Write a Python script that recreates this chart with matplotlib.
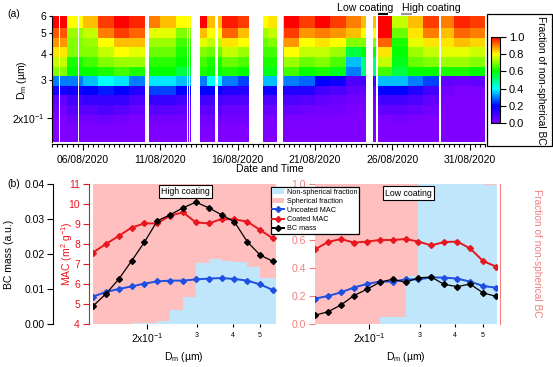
import datetime as dt
import numpy as np
import matplotlib
matplotlib.use('Agg')
import matplotlib.pyplot as plt
import matplotlib.dates as mdates
from matplotlib.colors import LinearSegmentedColormap
from matplotlib.patches import Rectangle, Patch
from matplotlib.lines import Line2D
from matplotlib.ticker import FixedLocator, FixedFormatter

plt.rcParams['font.family'] = ['Liberation Sans', 'DejaVu Sans']
plt.rcParams['mathtext.fontset'] = 'custom'
plt.rcParams['mathtext.rm'] = 'Liberation Sans'
plt.rcParams['mathtext.it'] = 'Liberation Sans:italic'

# ---------------- data ----------------
# size bins (um) shared by both panels
Dm = [0.1291, 0.1433, 0.1590, 0.1765, 0.1959, 0.2175, 0.2413, 0.2679,
      0.2972, 0.3299, 0.3661, 0.4063, 0.4509, 0.5004, 0.5554]
# heat-map row edges (bins 3..15), bottom -> top
heat_edges = [0.1510, 0.1675, 0.1859, 0.2064, 0.2290, 0.2542, 0.2821,
              0.3131, 0.3475, 0.3857, 0.4280, 0.4750, 0.5272, 0.6000]
# daily mean fraction of non-spherical BC per row (bottom -> top), 4-31 Aug 2020
heat_days = list(range(4, 32))
heat_frac = [
    [0, 0, 0, 0.02, 0.05, 0.17, 0.30, 0.70, 0.75, 0.82, 0.88, 0.93, 1.00],  # 4
    [0, 0.01, 0.03, 0.06, 0.10, 0.18, 0.30, 0.60, 0.62, 0.70, 0.70, 0.72, 0.80],  # 5
    [0, 0.01, 0.02, 0.06, 0.12, 0.20, 0.35, 0.60, 0.65, 0.70, 0.72, 0.75, 0.85],  # 6
    [0, 0.01, 0.03, 0.08, 0.12, 0.22, 0.40, 0.62, 0.70, 0.75, 0.80, 0.90, 0.95],  # 7
    [0, 0.01, 0.02, 0.06, 0.12, 0.20, 0.38, 0.65, 0.72, 0.80, 0.85, 0.95, 1.00],  # 8
    [0, 0, 0.01, 0.04, 0.08, 0.15, 0.30, 0.62, 0.72, 0.78, 0.85, 0.92, 0.97],  # 9
    [0, 0.01, 0.02, 0.06, 0.12, 0.25, 0.38, 0.60, 0.63, 0.68, 0.72, 0.78, 0.90],  # 10
    [0, 0.01, 0.02, 0.06, 0.12, 0.25, 0.38, 0.60, 0.63, 0.68, 0.72, 0.78, 0.85],  # 11
    [0, 0.01, 0.02, 0.05, 0.10, 0.20, 0.35, 0.55, 0.60, 0.62, 0.65, 0.70, 0.80],  # 12
    [0, 0.01, 0.02, 0.05, 0.10, 0.20, 0.30, 0.62, 0.65, 0.70, 0.78, 0.85, 1.00],  # 13
    [0, 0.01, 0.03, 0.06, 0.10, 0.20, 0.40, 0.60, 0.62, 0.68, 0.75, 0.80, 0.85],  # 14
    [0, 0, 0.02, 0.04, 0.08, 0.15, 0.30, 0.62, 0.68, 0.75, 0.82, 0.92, 0.98],  # 15
    [0, 0, 0.02, 0.04, 0.08, 0.15, 0.25, 0.60, 0.66, 0.72, 0.80, 0.85, 0.95],  # 16
    [0, 0, 0.01, 0.04, 0.08, 0.18, 0.35, 0.58, 0.62, 0.65, 0.68, 0.72, 0.80],  # 17
    [0, 0, 0.01, 0.04, 0.08, 0.18, 0.35, 0.58, 0.62, 0.65, 0.70, 0.75, 0.82],  # 18
    [0, 0, 0.01, 0.04, 0.08, 0.15, 0.30, 0.65, 0.72, 0.80, 0.88, 0.95, 1.00],  # 19
    [0, 0, 0.01, 0.03, 0.07, 0.15, 0.28, 0.60, 0.68, 0.75, 0.80, 0.88, 0.95],  # 20
    [0, 0, 0.01, 0.02, 0.05, 0.10, 0.20, 0.62, 0.70, 0.75, 0.82, 0.90, 1.00],  # 21
    [0, 0, 0, 0.02, 0.04, 0.08, 0.18, 0.58, 0.66, 0.72, 0.80, 0.88, 0.95],  # 22
    [0, 0, 0, 0.01, 0.02, 0.05, 0.08, 0.30, 0.35, 0.55, 0.70, 0.85, 0.90],  # 23
    [0, 0, 0, 0.01, 0.02, 0.05, 0.10, 0.50, 0.50, 0.60, 0.70, 0.80, 0.85],  # 24
    [0, 0, 0.01, 0.05, 0.10, 0.20, 0.35, 0.65, 0.75, 0.82, 0.92, 1.00, 1.00],  # 25
    [0, 0, 0.02, 0.05, 0.10, 0.20, 0.35, 0.55, 0.58, 0.60, 0.62, 0.68, 0.75],  # 26
    [0, 0, 0.01, 0.04, 0.08, 0.15, 0.30, 0.60, 0.68, 0.72, 0.78, 0.82, 0.85],  # 27
    [0, 0, 0, 0.02, 0.05, 0.10, 0.25, 0.60, 0.70, 0.75, 0.82, 0.90, 0.95],  # 28
    [0, 0, 0, 0, 0.01, 0.02, 0.05, 0.62, 0.72, 0.78, 0.82, 0.85, 0.90],  # 29
    [0, 0, 0, 0, 0, 0.01, 0.04, 0.62, 0.72, 0.78, 0.85, 0.92, 0.97],  # 30
    [0, 0, 0, 0, 0, 0.01, 0.05, 0.60, 0.70, 0.76, 0.83, 0.90, 0.95],  # 31
]
# periods with valid measurements (day of August, fractional)
valid_periods = [(4.00, 4.45), (4.55, 5.69), (5.77, 9.98),
                 (10.30, 10.36), (10.42, 10.48), (10.55, 12.71),
                 (12.78, 12.84), (12.92, 12.98), (13.03, 13.08),
                 (13.57, 14.54), (14.70, 16.69), (17.66, 18.56),
                 (18.95, 24.32), (24.75, 24.97), (25.07, 29.06), (29.12, 32.00)]
low_period = (25.1, 25.7)
high_period = (26.6, 27.3)

# panel (b): high coating
frac_high = [0, 0, 0, 0.005, 0.005, 0.025, 0.10, 0.19, 0.435, 0.465,
             0.452, 0.445, 0.407, 0.33, 0.33]
uncMAC_high = [5.37, 5.60, 5.75, 5.88, 6.02, 6.13, 6.17, 6.17, 6.23, 6.27,
               6.30, 6.25, 6.17, 5.98, 5.70]
coatMAC_high = [7.57, 8.00, 8.40, 8.82, 9.03, 9.03, 9.42, 9.58, 9.08, 9.03,
                9.25, 9.23, 9.12, 8.70, 8.28]
mass_high = [0.0051, 0.0086, 0.0128, 0.0180, 0.0234, 0.0295, 0.0312, 0.0332,
             0.0348, 0.0332, 0.0312, 0.0292, 0.0235, 0.0197, 0.0179]
# panel (b): low coating
frac_low = [0, 0, 0, 0, 0, 0.05, 0.05, 0.34, 1.0, 1.0, 1.0, 1.0, 1.0, 0.99, 0.99]
uncMAC_low = [5.27, 5.40, 5.58, 5.82, 6.00, 6.12, 6.12, 6.23, 6.23, 6.33,
              6.32, 6.27, 6.12, 5.90, 5.82]
coatMAC_low = [7.73, 8.10, 8.25, 8.07, 8.12, 8.20, 8.20, 8.25, 8.12, 7.93,
               8.10, 8.12, 7.78, 7.15, 6.87]
mass_low = [0.0025, 0.0035, 0.0054, 0.0081, 0.0099, 0.0119, 0.0128, 0.0119,
            0.0132, 0.0134, 0.0113, 0.0107, 0.0114, 0.0089, 0.0079]

# ---------------- style ----------------
W, H = 553, 367
PT = 72.0 / 100.0
FS = 7.5
C_BLUEFILL = '#bfe6fa'
C_PINK = '#ffbfbf'
C_RED = '#e8161e'
C_BLUE = '#1f4fe0'
C_FRAC = '#f08080'

def rect(x0, y0, x1, y1):
    return [x0 / W, 1 - y1 / H, (x1 - x0) / W, (y1 - y0) / H]

cmap = LinearSegmentedColormap.from_list(
    'rainbow_igor', [(0.0, '#8000ff'), (0.2, '#0000ff'), (0.4, '#00ffff'),
                     (0.6, '#00ff00'), (0.8, '#ffff00'), (1.0, '#ff0000')])

fig = plt.figure(figsize=(W / 100, H / 100), dpi=100)

# ---------------- panel (a) ----------------
axA = fig.add_axes(rect(52, 16, 485, 142))
t0 = dt.datetime(2020, 8, 4)
nh = 28 * 24
t_edges = mdates.date2num([t0 + dt.timedelta(hours=h) for h in range(nh + 1)])
Z = np.full((len(heat_edges) - 1, nh), np.nan)
for j in range(nh):
    d = 4 + (j + 0.5) / 24.0
    if any(a <= d < b for a, b in valid_periods):
        Z[:, j] = heat_frac[heat_days.index(int(np.floor(d)))]
mesh = axA.pcolormesh(t_edges, heat_edges, np.ma.masked_invalid(Z), cmap=cmap,
                      vmin=0, vmax=1, shading='flat', edgecolors='none',
                      antialiased=False)
axA.set_yscale('log')
axA.set_ylim(0.1537, 0.6)
axA.set_xlim(mdates.date2num(dt.datetime(2020, 8, 4)),
             mdates.date2num(dt.datetime(2020, 9, 1)))
for s in ['top', 'right']:
    axA.spines[s].set_visible(False)
axA.spines['bottom'].set_position(('outward', 1.5))
for s in ['left', 'bottom']:
    axA.spines[s].set_linewidth(0.8)
axA.yaxis.set_major_locator(FixedLocator([0.2]))
axA.yaxis.set_major_formatter(FixedFormatter([r'2x10$\mathregular{^{-1}}$']))
axA.yaxis.set_minor_locator(FixedLocator([0.3, 0.4, 0.5, 0.6]))
axA.yaxis.set_minor_formatter(FixedFormatter(['3', '4', '5', '6']))
axA.xaxis.set_major_locator(mdates.DayLocator(bymonthday=[6, 11, 16, 21, 26, 31]))
axA.xaxis.set_major_formatter(mdates.DateFormatter('%d/%m/%Y'))
axA.xaxis.set_minor_locator(mdates.HourLocator(byhour=[0, 8, 16]))
axA.tick_params(axis='both', which='both', direction='out', labelsize=FS, width=0.8)
axA.tick_params(axis='y', which='major', length=3.5, pad=1.5)
axA.tick_params(axis='y', which='minor', length=2.5, pad=1.5)
axA.tick_params(axis='x', which='major', length=4, pad=4)
axA.tick_params(axis='x', which='minor', length=2.5)

fig.text(22 / W, 1 - 80 / H, r'$\mathregular{D_m}$ (µm)', rotation=90,
         ha='center', va='center', fontsize=FS)
fig.text(270 / W, 1 - 169 / H, 'Date and Time', ha='center', va='center', fontsize=FS)
fig.text(7 / W, 1 - 14 / H, '(a)', ha='left', va='center', fontsize=FS)

xt = axA.get_xaxis_transform()
axA.plot(mdates.date2num([t0 + dt.timedelta(days=v - 4) for v in low_period]),
         [1.012, 1.012], color='black', lw=1.6, transform=xt, clip_on=False,
         solid_capstyle='butt')
axA.plot(mdates.date2num([t0 + dt.timedelta(days=v - 4) for v in high_period]),
         [1.012, 1.012], color='#999999', lw=1.6, transform=xt, clip_on=False,
         solid_capstyle='butt')
fig.text(365 / W, 1 - 8 / H, 'Low coating', ha='center', va='center', fontsize=7.6)
fig.text(431 / W, 1 - 8 / H, 'High coating', ha='center', va='center', fontsize=7.6)

# colorbar
fig.patches.append(Rectangle((487 / W, 1 - 146 / H), 65 / W, 132 / H, fill=False,
                             edgecolor='black', lw=0.9, transform=fig.transFigure))
cax = fig.add_axes(rect(490.7, 37, 500, 123))
cb = fig.colorbar(mesh, cax=cax, ticks=[0, 0.2, 0.4, 0.6, 0.8, 1.0])
cb.ax.set_yticklabels(['0.0', '0.2', '0.4', '0.6', '0.8', '1.0'])
cb.ax.tick_params(direction='out', length=4.5, width=0.8, labelsize=8, pad=2)
cb.outline.set_linewidth(0.8)
fig.text(541 / W, 1 - 80 / H, 'Fraction of non-spherical BC', rotation=-90,
         ha='center', va='center', fontsize=7.3)

# ---------------- panel (b) ----------------
def make_sub(x0, x1, xmax, frac, unc, coat, mass, left_axes, right_axis):
    axF = fig.add_axes(rect(x0, 184, x1, 324))
    axF.set_xscale('log')
    axF.set_xlim(Dm[0], xmax)
    axF.set_ylim(0, 1)
    xe = list(Dm) + [xmax]
    fe = list(frac) + [frac[-1]]
    axF.fill_between(xe, 0, fe, step='post', color=C_BLUEFILL, lw=0)
    axF.fill_between(xe, fe, 1, step='post', color=C_PINK, lw=0)
    for s in ['top', 'bottom', 'left', 'right']:
        axF.spines[s].set_visible(False)
    axF.xaxis.set_major_locator(FixedLocator([0.2]))
    axF.xaxis.set_major_formatter(FixedFormatter([r'2x10$\mathregular{^{-1}}$']))
    axF.xaxis.set_minor_locator(FixedLocator([0.3, 0.4, 0.5]))
    axF.xaxis.set_minor_formatter(FixedFormatter(['3', '4', '5']))
    axF.tick_params(axis='x', which='major', direction='out', length=3.5,
                    width=0.8, labelsize=FS, pad=2)
    axF.tick_params(axis='x', which='minor', direction='out', length=2.5,
                    width=0.8, labelsize=5, pad=3)
    if right_axis:
        axF.spines['right'].set_visible(True)
        axF.spines['right'].set_color(C_FRAC)
        axF.spines['right'].set_position(('outward', 3 * PT))
        axF.yaxis.tick_right()
        axF.set_yticks([0, 0.2, 0.4, 0.6, 0.8, 1.0])
        axF.set_yticklabels(['0.0', '0.2', '0.4', '0.6', '0.8', '1.0'])
        axF.tick_params(axis='y', direction='out', length=4.5, width=0.8,
                        colors=C_FRAC, labelsize=FS, pad=2)
    else:
        axF.set_yticks([])

    axM = axF.twinx()
    axM.set_ylim(4, 11)
    axB = axF.twinx()
    axB.set_ylim(0, 0.04)
    for ax in (axM, axB):
        for s in ['top', 'bottom', 'left', 'right']:
            ax.spines[s].set_visible(False)
    if left_axes:
        axM.spines['left'].set_visible(True)
        axM.spines['left'].set_color(C_RED)
        axM.spines['left'].set_position(('outward', 4 * PT))
        axM.yaxis.tick_left()
        axM.set_yticks(range(4, 12))
        axM.tick_params(axis='y', direction='out', length=4.5, width=0.8,
                        colors=C_RED, labelsize=FS, pad=2)
        axB.spines['left'].set_visible(True)
        axB.spines['left'].set_position(('outward', 40 * PT))
        axB.spines['left'].set_linewidth(0.8)
        axB.yaxis.tick_left()
        axB.set_yticks([0, 0.01, 0.02, 0.03, 0.04])
        axB.set_yticklabels(['0.00', '0.01', '0.02', '0.03', '0.04'])
        axB.tick_params(axis='y', direction='out', length=4.5, width=0.8,
                        labelsize=FS, pad=1.5)
    else:
        axM.set_yticks([])
        axB.set_yticks([])
    axM.plot(Dm, unc, color=C_BLUE, lw=1.4, marker='D', ms=3, mec=C_BLUE)
    axM.plot(Dm, coat, color=C_RED, lw=1.4, marker='D', ms=3, mec=C_RED)
    axB.plot(Dm, mass, color='black', lw=0.9, marker='D', ms=3)
    return axF

make_sub(93, 276, 0.5691, frac_high, uncMAC_high, coatMAC_high, mass_high, True, False)
make_sub(315, 497, 0.5600, frac_low, uncMAC_low, coatMAC_low, mass_low, False, True)

fig.text(7 / W, 1 - 184 / H, '(b)', ha='left', va='center', fontsize=FS)
fig.text(9 / W, 1 - 254 / H, 'BC mass (a.u.)', rotation=90, ha='center',
         va='center', fontsize=FS)
fig.text(67 / W, 1 - 254 / H, r'MAC (m$\mathregular{^2}$ g$\mathregular{^{-1}}$)',
         rotation=90, ha='center', va='center', fontsize=FS, color=C_RED)
fig.text(537 / W, 1 - 253 / H, 'Fraction of non-spherical BC', rotation=-90,
         ha='center', va='center', fontsize=7.3, color=C_FRAC)
fig.text(184 / W, 1 - 357 / H, r'$\mathregular{D_m}$ (µm)', ha='center',
         va='center', fontsize=FS)
fig.text(406 / W, 1 - 357 / H, r'$\mathregular{D_m}$ (µm)', ha='center',
         va='center', fontsize=FS)
fig.text(185.5 / W, 1 - 191.5 / H, 'High coating', ha='center', va='center',
         fontsize=6.3, bbox=dict(boxstyle='square,pad=0.25', fc='white',
                                 ec='black', lw=0.8))
fig.text(408.5 / W, 1 - 193 / H, 'Low coating', ha='center', va='center',
         fontsize=6.3, bbox=dict(boxstyle='square,pad=0.25', fc='white',
                                 ec='black', lw=0.8))

handles = [Patch(facecolor=C_BLUEFILL, edgecolor='none'),
           Patch(facecolor=C_PINK, edgecolor='none'),
           Line2D([], [], color=C_BLUE, lw=1.4, marker='D', ms=3),
           Line2D([], [], color=C_RED, lw=1.4, marker='D', ms=3),
           Line2D([], [], color='black', lw=1.4, marker='D', ms=3)]
labels = ['Non-spherical fraction', 'Spherical fraction', 'Uncoated MAC',
          'Coated MAC', 'BC mass']
leg = fig.legend(handles, labels, loc='upper left',
                 bbox_to_anchor=(271 / W, 1 - 187 / H), fontsize=5.2,
                 frameon=True, fancybox=False, edgecolor='black',
                 framealpha=1, borderpad=0.2, labelspacing=0.3,
                 handlelength=1.6, handleheight=0.7, handletextpad=0.4,
                 borderaxespad=0)
leg.get_frame().set_linewidth(0.9)

fig.savefig('out.png', dpi=100)
